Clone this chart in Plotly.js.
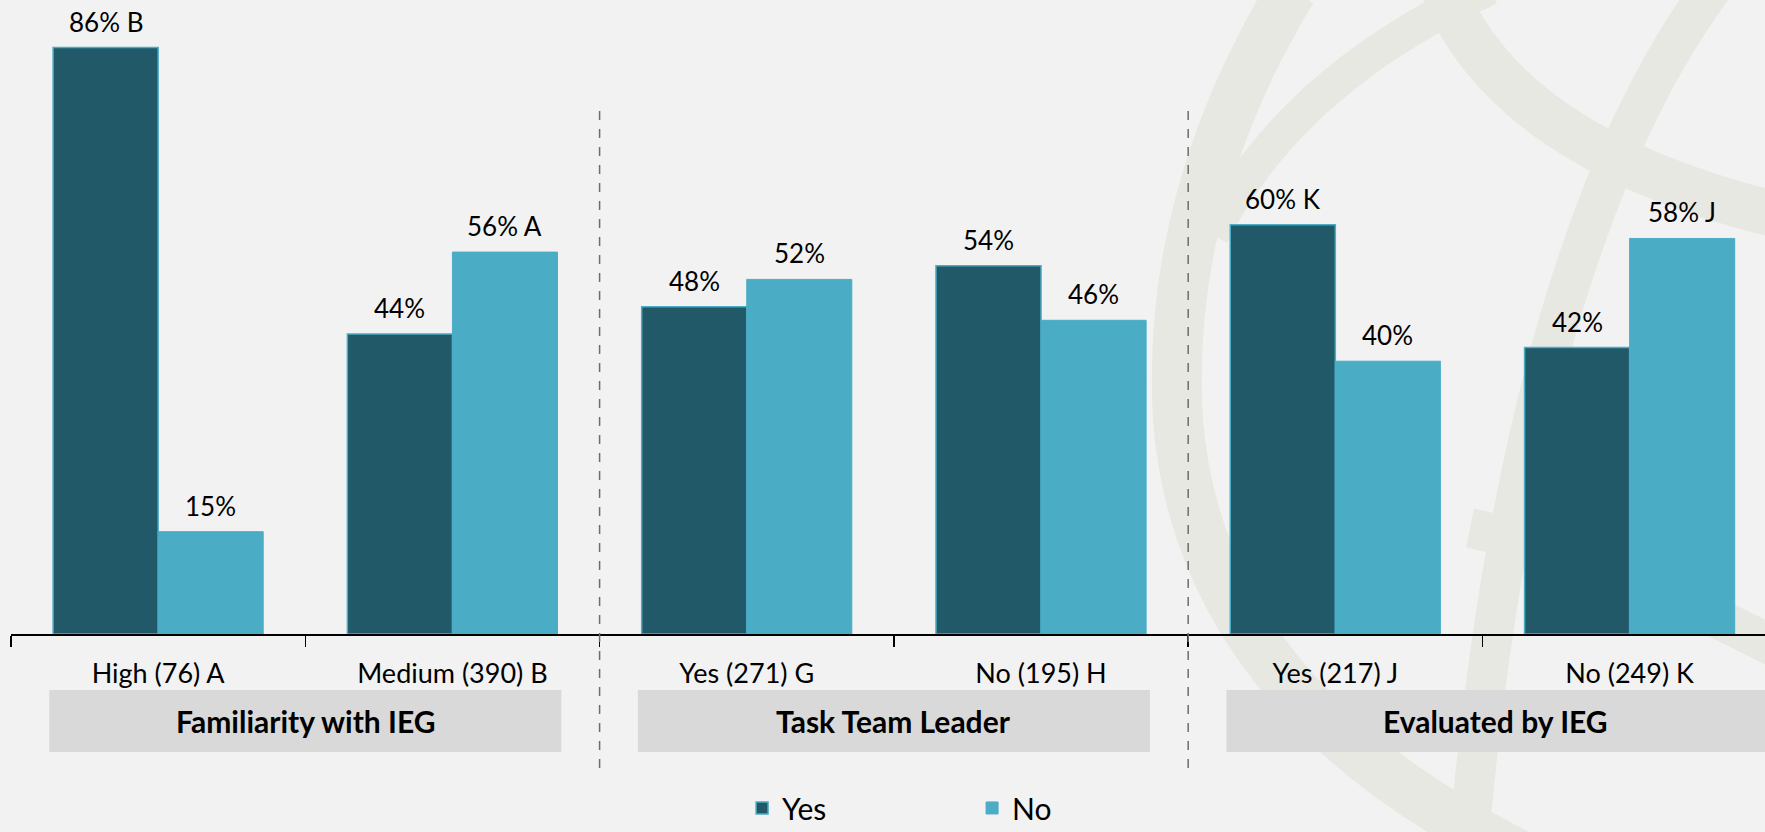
<!DOCTYPE html>
<html>
<head>
<meta charset="utf-8">
<script src="https://cdn.plot.ly/plotly-3.0.1.min.js"></script>
<style>
html,body{margin:0;padding:0;background:#f2f2f2;overflow:hidden;}
#chart{width:1765px;height:832px;}
</style>
</head>
<body>
<div id="chart"></div>
<script>
// ---- data ----
const categories = ["High (76) A","Medium (390) B","Yes (271) G","No (195) H","Yes (217) J","No (249) K"];
const yesValues = [86, 44, 48, 54, 60, 42];
const noValues  = [15, 56, 52, 46, 40, 58];
const yesSig = ["B", "", "", "", "K", ""];
const noSig  = ["", "A", "", "", "", "J"];
const groupNames = ["Familiarity with IEG", "Task Team Leader", "Evaluated by IEG"];
const groupSpans = [[0, 1], [2, 3], [4, 5]];
const seriesNames = ["Yes", "No"];

// ---- style ----
const YES_COLOR = "#215968";
const NO_COLOR = "#4BACC6";
const FONT = "Lato, 'Open Sans', sans-serif";
const W = 1765, H = 832;
const M = {l: 11, r: 0, t: 10, b: 198, autoexpand: false};
const XMAX = 5.46;
const BAR_OFF = 0.1785;

const pw = W - M.l - M.r, ph = H - M.t - M.b;
// pixel -> paper helpers for decoration
const px = x => ((x - M.l) / pw).toFixed(4);
const py = y => ((H - M.b - y) / ph).toFixed(4);
const P = (x, y) => px(x) + "," + py(y);

const traces = [
  {type: "bar", name: seriesNames[0], x: categories, y: yesValues,
   marker: {color: YES_COLOR, line: {color: NO_COLOR, width: 1.5}}, hoverinfo: "x+y"},
  {type: "bar", name: seriesNames[1], x: categories, y: noValues,
   marker: {color: NO_COLOR, line: {color: NO_COLOR, width: 1}}, hoverinfo: "x+y"}
];

const annotations = [];
categories.forEach((c, i) => {
  annotations.push({x: i - BAR_OFF, y: yesValues[i], xref: "x", yref: "y",
    text: yesValues[i] + "%" + (yesSig[i] ? " " + yesSig[i] : ""),
    showarrow: false, yanchor: "middle", yshift: 26, font: {family: FONT, size: 26, color: "#000"}});
  annotations.push({x: i + BAR_OFF, y: noValues[i], xref: "x", yref: "y",
    text: noValues[i] + "%" + (noSig[i] ? " " + noSig[i] : ""),
    showarrow: false, yanchor: "middle", yshift: 26, font: {family: FONT, size: 26, color: "#000"}});
});

const boxY0 = py(752), boxY1 = py(690);
const shapes = [];
// watermark globe (decoration)
const wmc = "#e8e8e3";
const wmPath = (d, w) => shapes.push({type: "path", xref: "paper", yref: "paper", layer: "below",
  path: d, line: {color: wmc, width: w}});
wmPath("M" + P(1292, -10) + " Q" + P(1165, 200) + " " + P(1178, 420) + " Q" + P(1200, 700) + " " + P(1530, 860), 50);
wmPath("M" + P(1490, -12) + " Q" + P(1290, 80) + " " + P(1212, 235), 34);
wmPath("M" + P(1440, -20) + " Q" + P(1500, 150) + " " + P(1790, 218), 46);
wmPath("M" + P(1712, -12) + " Q" + P(1520, 250) + " " + P(1468, 850), 40);
wmPath("M" + P(1470, 528) + " Q" + P(1600, 555) + " " + P(1790, 655), 40);

groupNames.forEach((g, k) => {
  const c = (groupSpans[k][0] + groupSpans[k][1]) / 2;
  const x0 = c - 0.87;
  const x1 = (k === groupNames.length - 1) ? XMAX : c + 0.87;
  shapes.push({type: "rect", xref: "x", yref: "paper", layer: "below",
    x0: x0, x1: x1, y0: boxY0, y1: boxY1, fillcolor: "#d9d9d9", line: {width: 0}});
  annotations.push({x: (x0 + x1) / 2, y: (parseFloat(boxY0) + parseFloat(boxY1)) / 2, xref: "x", yref: "paper",
    text: "<b>" + g + "</b>", showarrow: false, yanchor: "middle",
    font: {family: FONT, size: 30, color: "#000"}});
  if (k > 0) {
    const bx = groupSpans[k][0] - 0.5;
    shapes.push({type: "line", xref: "x", yref: "paper", x0: bx, x1: bx,
      y0: py(768), y1: py(110), line: {color: "#6d6d6d", width: 1.5, dash: "dash"}});
  }
});

const layout = {
  width: W, height: H,
  margin: M,
  paper_bgcolor: "#f2f2f2",
  plot_bgcolor: "rgba(0,0,0,0)",
  barmode: "group",
  bargap: 0.286,
  bargroupgap: 0,
  font: {family: FONT, color: "#000"},
  xaxis: {type: "category", range: [-0.5, XMAX], showline: true, linecolor: "#000", linewidth: 1.5,
    ticks: "outside", tickson: "boundaries", ticklen: 11, tickcolor: "#000", tickwidth: 1.5,
    ticklabelstandoff: 15, tickfont: {family: FONT, size: 27, color: "#000"}, showgrid: false, zeroline: false,
    fixedrange: true, automargin: false},
  yaxis: {range: [0, 91.5], visible: false, showgrid: false, zeroline: false, fixedrange: true, automargin: false},
  showlegend: true,
  legend: {orientation: "h", x: px(742), xanchor: "left", y: py(808), yanchor: "middle",
    font: {family: FONT, size: 30, color: "#000"}, entrywidth: 185, bgcolor: "rgba(0,0,0,0)"},
  shapes: shapes,
  annotations: annotations
};

Plotly.newPlot("chart", traces, layout, {displayModeBar: false, staticPlot: true});
</script>
</body>
</html>
